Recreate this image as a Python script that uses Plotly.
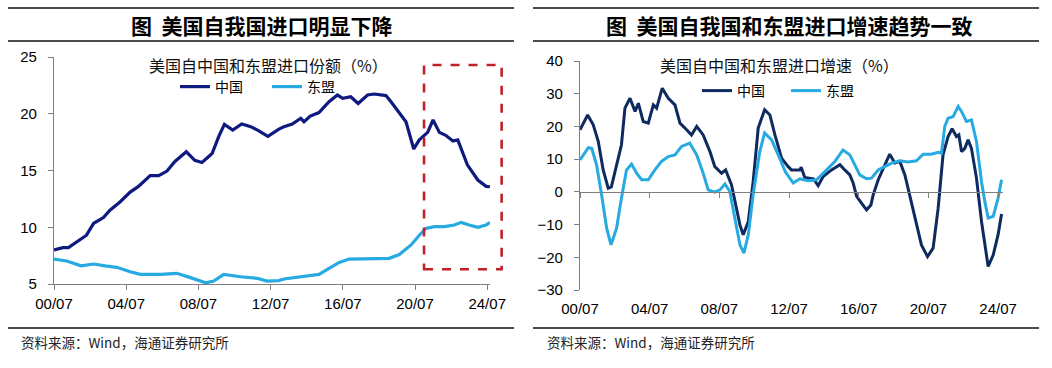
import plotly.graph_objects as go

W, H = 1052, 368

# ---------------- data ----------------
tick_vals = [2000.5, 2004.5, 2008.5, 2012.5, 2016.5, 2020.5, 2024.5]
tick_text = ["00/07", "04/07", "08/07", "12/07", "16/07", "20/07", "24/07"]

# Left: share of US imports (%)
share_china_x = [2000.5, 2001.0, 2001.3, 2001.94, 2002.3, 2002.7, 2003.24, 2003.6, 2004.17, 2004.72,
                 2005.18, 2005.83, 2006.3, 2006.76, 2007.2, 2007.83, 2008.3, 2008.7, 2009.26, 2009.63,
                 2009.94, 2010.4, 2010.9, 2011.4, 2011.85, 2012.35, 2012.96, 2013.24, 2013.7, 2014.17,
                 2014.35, 2014.7, 2015.18, 2015.74, 2016.2, 2016.5, 2016.94, 2017.35, 2017.87, 2018.24,
                 2018.89, 2019.17, 2019.54, 2020.0, 2020.43, 2020.74, 2021.2, 2021.5, 2021.85, 2022.2,
                 2022.6, 2022.87, 2023.4, 2023.98, 2024.44, 2024.65]
share_china = [8.0, 8.2, 8.2, 8.9, 9.3, 10.35, 10.85, 11.5, 12.25, 13.1,
               13.6, 14.55, 14.55, 14.95, 15.8, 16.65, 15.9, 15.7, 16.5, 18.0,
               19.07, 18.57, 19.1, 18.86, 18.5, 18.0, 18.65, 18.86, 19.1, 19.6,
               19.3, 19.8, 20.1, 21.06, 21.65, 21.36, 21.5, 20.9, 21.65, 21.74,
               21.6, 21.06, 20.3, 19.3, 16.9, 17.7, 18.36, 19.45, 18.36, 18.1,
               17.6, 17.7, 15.5, 14.16, 13.6, 13.57]

share_asean_x = [2000.5, 2001.2, 2002.0, 2002.7, 2003.33, 2003.98, 2004.72, 2005.28, 2006.4, 2007.3,
                 2008.06, 2008.9, 2009.35, 2009.9, 2010.83, 2011.76, 2012.3, 2012.96, 2013.24, 2014.35,
                 2015.18, 2015.74, 2016.3, 2016.85, 2018.06, 2019.07, 2019.63, 2020.28, 2020.74, 2021.1,
                 2021.57, 2022.13, 2022.68, 2023.06, 2023.5, 2023.98, 2024.44, 2024.65]
share_asean = [7.2, 7.03, 6.6, 6.76, 6.6, 6.47, 6.08, 5.85, 5.85, 5.94,
               5.56, 5.1, 5.26, 5.85, 5.64, 5.5, 5.26, 5.3, 5.44, 5.64,
               5.85, 6.38, 6.9, 7.2, 7.2, 7.26, 7.6, 8.44, 9.3, 9.9,
               10.05, 10.05, 10.2, 10.43, 10.2, 10.0, 10.2, 10.43]

# Right: import growth (%)
growth_china_x = [2000.5, 2000.94, 2001.26, 2001.55, 2001.83, 2002.12, 2002.3, 2002.6, 2002.88, 2003.08,
                  2003.37, 2003.66, 2003.85, 2004.13, 2004.42, 2004.71, 2004.9, 2005.22, 2005.57, 2005.95,
                  2006.24, 2006.62, 2006.9, 2007.2, 2007.57, 2007.96, 2008.24, 2008.63, 2008.86, 2009.2,
                  2009.4, 2009.68, 2009.87, 2010.16, 2010.44, 2010.73, 2011.1, 2011.4, 2011.69, 2012.07,
                  2012.45, 2012.64, 2013.12, 2013.2, 2013.4, 2013.9, 2014.17, 2014.46, 2014.94, 2015.42,
                  2015.7, 2015.99, 2016.18, 2016.38, 2016.67, 2016.95, 2017.2, 2017.33, 2017.62, 2018.0,
                  2018.28, 2018.57, 2018.86, 2019.15, 2019.43, 2019.72, 2020.1, 2020.45, 2020.77, 2021.06,
                  2021.34, 2021.63, 2021.86, 2022.11, 2022.25, 2022.4, 2022.59, 2022.78, 2022.97, 2023.26,
                  2023.55, 2023.93, 2024.22, 2024.5, 2024.7]
growth_china = [19.0, 23.5, 20.5, 15.4, 6.7, 1.1, 1.5, 8.3, 14.4, 25.6,
                28.6, 24.6, 27.1, 21.5, 21.0, 26.6, 25.6, 31.7, 28.6, 26.6,
                21.0, 19.0, 17.4, 20.0, 17.4, 12.3, 7.7, 5.7, 6.7, 2.1,
                -3.0, -10.1, -13.1, -9.1, 3.1, 19.5, 25.1, 23.5, 17.4, 10.3,
                7.7, 6.7, 6.7, 7.5, 4.4, 4.0, 1.9, 4.7, 6.7, 8.3,
                6.7, 5.2, 2.7, -1.4, -3.5, -5.5, -4.0, -0.9, 3.7, 8.3,
                11.5, 8.8, 9.3, 5.2, -0.9, -7.0, -16.2, -19.8, -17.2, -5.0,
                11.3, 16.9, 19.3, 16.9, 17.4, 12.3, 13.3, 15.9, 13.3, 4.2,
                -9.1, -22.8, -19.3, -13.1, -6.8]

growth_asean_x = [2000.5, 2000.98, 2001.17, 2001.45, 2001.74, 2002.03, 2002.28, 2002.6, 2002.88, 2003.17,
                  2003.46, 2003.75, 2004.04, 2004.42, 2004.8, 2005.18, 2005.57, 2005.95, 2006.33, 2006.8,
                  2007.2, 2007.57, 2007.86, 2008.24, 2008.53, 2008.82, 2009.1, 2009.4, 2009.68, 2009.91,
                  2010.16, 2010.44, 2010.82, 2011.1, 2011.5, 2011.88, 2012.3, 2012.74, 2013.12, 2013.6,
                  2014.08, 2014.56, 2015.13, 2015.6, 2015.99, 2016.27, 2016.56, 2016.95, 2017.23, 2017.62,
                  2018.0, 2018.38, 2018.86, 2019.33, 2019.81, 2020.2, 2020.67, 2021.06, 2021.25, 2021.44,
                  2021.63, 2021.92, 2022.21, 2022.4, 2022.68, 2022.97, 2023.26, 2023.55, 2023.74, 2023.93,
                  2024.22, 2024.5, 2024.7]
growth_asean = [9.8, 13.5, 13.3, 8.3, -0.9, -11.1, -16.2, -11.1, -1.9, 6.7,
                8.5, 5.7, 3.7, 3.7, 6.7, 9.3, 10.8, 11.3, 13.9, 14.9,
                11.3, 5.7, 0.6, -0.1, 0.6, 2.4, 0.1, -8.0, -16.2, -18.7,
                -13.1, -0.9, 12.3, 18.0, 15.9, 11.3, 6.0, 2.7, 4.0, 3.4,
                3.7, 6.2, 9.3, 12.8, 11.3, 8.3, 5.2, 4.0, 4.2, 6.7,
                7.7, 8.8, 9.5, 9.1, 9.5, 11.5, 11.5, 12.1, 11.8, 20.0,
                22.5, 23.0, 26.1, 24.6, 21.5, 22.0, 15.4, 3.1, -3.0, -8.0,
                -7.5, -1.9, 3.7]

# highlight box on the left chart (data units)
box_x = [2021.0, 2025.3]
box_y = [6.3, 24.3]

# ---------------- styling ----------------
NAVY_L = "#0e1a80"
NAVY_R = "#0e2a5e"
CYAN = "#27aae1"
GRAY = "#7f7f7f"
TICK_FONT = dict(family="Liberation Sans, Arial", size=15, color="#000000")
CJK = "Noto Sans CJK SC"


def px(x):
    return x / W


def py(y):
    return 1 - y / H


# left axes geometry
L_X0, L_X1 = 54, 490
L_Y0, L_Y1 = 284, 57
L_RANGE_X = [2000.5, 2000.5 + (L_X1 - L_X0) / 18.05]
L_RANGE_Y = [5, 25]
# right axes geometry
R_X0, R_X1 = 580, 1003
R_Y0, R_Y1 = 290, 61
R_RANGE_X = [2000.5, 2000.5 + (R_X1 - R_X0) / 17.42]
R_RANGE_Y = [-30, 40]

fig = go.Figure()

fig.add_trace(go.Scatter(x=share_china_x, y=share_china, name="中国", mode="lines",
                         line=dict(color=NAVY_L, width=3.2), xaxis="x", yaxis="y", legend="legend"))
fig.add_trace(go.Scatter(x=share_asean_x, y=share_asean, name="东盟", mode="lines",
                         line=dict(color=CYAN, width=3.2), xaxis="x", yaxis="y", legend="legend"))
fig.add_trace(go.Scatter(x=growth_china_x, y=growth_china, name="中国", mode="lines",
                         line=dict(color=NAVY_R, width=3), xaxis="x2", yaxis="y2", legend="legend2"))
fig.add_trace(go.Scatter(x=growth_asean_x, y=growth_asean, name="东盟", mode="lines",
                         line=dict(color=CYAN, width=3), xaxis="x2", yaxis="y2", legend="legend2"))
# carrier for the zero-line axis of the right chart
fig.add_trace(go.Scatter(x=[None], y=[None], xaxis="x3", yaxis="y2", showlegend=False, hoverinfo="skip"))

zero_frac = (0 - R_RANGE_Y[0]) / (R_RANGE_Y[1] - R_RANGE_Y[0])
zero_pos = py(R_Y0) + zero_frac * (py(R_Y1) - py(R_Y0))

common_x = dict(tickmode="array", tickvals=tick_vals, ticktext=tick_text, showgrid=False,
                zeroline=False, tickfont=TICK_FONT, fixedrange=True, automargin=False)

LEG_FONT = dict(family=CJK, size=14, color="#000")

fig.update_layout(
    template="none",
    width=W, height=H,
    margin=dict(l=0, r=0, t=0, b=0, autoexpand=False),
    paper_bgcolor="white", plot_bgcolor="rgba(0,0,0,0)",
    showlegend=True,
    xaxis=dict(domain=[px(L_X0), px(L_X1)], range=L_RANGE_X, anchor="y",
               showline=True, linecolor=GRAY, linewidth=1.3,
               ticks="outside", ticklen=5, tickcolor=GRAY, ticklabelstandoff=1, **common_x),
    yaxis=dict(domain=[py(L_Y0), py(L_Y1)], range=L_RANGE_Y, dtick=5, anchor="x", automargin=False,
               showline=True, linecolor=GRAY, linewidth=1.3, showgrid=False, zeroline=False,
               ticks="outside", ticklen=5, tickcolor=GRAY, tickfont=TICK_FONT, ticklabelstandoff=8),
    xaxis2=dict(domain=[px(R_X0), px(R_X1)], range=R_RANGE_X, anchor="y2",
                showline=False, ticks="outside", ticklen=5, tickcolor="rgba(0,0,0,0)",
                ticklabelstandoff=0, **common_x),
    xaxis3=dict(range=R_RANGE_X, overlaying="x2", anchor="free", position=zero_pos, automargin=False,
                showline=True, linecolor=GRAY, linewidth=1.3, ticks="outside", ticklen=5,
                tickcolor=GRAY, showticklabels=False, tickmode="array", tickvals=tick_vals,
                showgrid=False, zeroline=False),
    yaxis2=dict(domain=[py(R_Y0), py(R_Y1)], range=R_RANGE_Y, dtick=10, anchor="x2", automargin=False,
                showline=True, linecolor=GRAY, linewidth=1.3, showgrid=False, zeroline=False,
                ticks="outside", ticklen=5, tickcolor=GRAY, tickfont=TICK_FONT, ticklabelstandoff=8),
    legend=dict(orientation="h", x=px(175), y=py(71), xanchor="left", yanchor="top",
                bgcolor="rgba(0,0,0,0)", font=LEG_FONT,
                entrywidth=47, entrywidthmode="pixels", itemclick=False, itemdoubleclick=False),
    legend2=dict(orientation="h", x=px(697), y=py(75), xanchor="left", yanchor="top",
                 bgcolor="rgba(0,0,0,0)", font=LEG_FONT,
                 entrywidth=44, entrywidthmode="pixels", itemclick=False, itemdoubleclick=False),
)

# title rules and bottom rules
shapes = []
for (a, b) in [(8, 514), (533, 1039)]:
    for yy in (8, 41, 328):
        shapes.append(dict(type="line", xref="paper", yref="paper", x0=px(a), x1=px(b),
                           y0=py(yy), y1=py(yy), line=dict(color="#111111", width=1.4)))


# dashed highlight box, mapped from data units into page coordinates of the left plot
def lx(v):
    return px(L_X0) + (v - L_RANGE_X[0]) / (L_RANGE_X[1] - L_RANGE_X[0]) * (px(L_X1) - px(L_X0))


def ly(v):
    return py(L_Y0) + (v - L_RANGE_Y[0]) / (L_RANGE_Y[1] - L_RANGE_Y[0]) * (py(L_Y1) - py(L_Y0))


shapes.append(dict(type="rect", xref="paper", yref="paper", x0=lx(box_x[0]), x1=lx(box_x[1]),
                   y0=ly(box_y[0]), y1=ly(box_y[1]),
                   line=dict(color="#c0202a", width=2.6, dash="dash"), fillcolor="rgba(0,0,0,0)"))
fig.update_layout(shapes=shapes)

annotations = [
    dict(text="<b>图  美国自我国进口明显下降</b>", x=px(262), y=py(25), xref="paper", yref="paper",
         showarrow=False, font=dict(family=CJK, size=21, color="#000"), xanchor="center", yanchor="middle"),
    dict(text="<b>图  美国自我国和东盟进口增速趋势一致</b>", x=px(789), y=py(25), xref="paper", yref="paper",
         showarrow=False, font=dict(family=CJK, size=21, color="#000"), xanchor="center", yanchor="middle"),
    # legend headings
    dict(text="美国自中国和东盟进口份额（%）", x=px(268), y=py(65), xref="paper", yref="paper",
         showarrow=False, font=dict(family=CJK, size=16, color="#111"), xanchor="center", yanchor="middle"),
    dict(text="美国自中国和东盟进口增速（%）", x=px(779), y=py(65), xref="paper", yref="paper",
         showarrow=False, font=dict(family=CJK, size=16, color="#111"), xanchor="center", yanchor="middle"),
    # sources
    dict(text="资料来源：Wind，海通证券研究所", x=px(19), y=py(342), xref="paper", yref="paper",
         showarrow=False, font=dict(family=CJK, size=13.5, color="#222"), xanchor="left", yanchor="middle"),
    dict(text="资料来源：Wind，海通证券研究所", x=px(545), y=py(342), xref="paper", yref="paper",
         showarrow=False, font=dict(family=CJK, size=13.5, color="#222"), xanchor="left", yanchor="middle"),
]
fig.update_layout(annotations=annotations)

fig.write_html("out.html", config={"displayModeBar": False},
               post_script="document.body.style.margin='0px';document.body.style.padding='0px';")
